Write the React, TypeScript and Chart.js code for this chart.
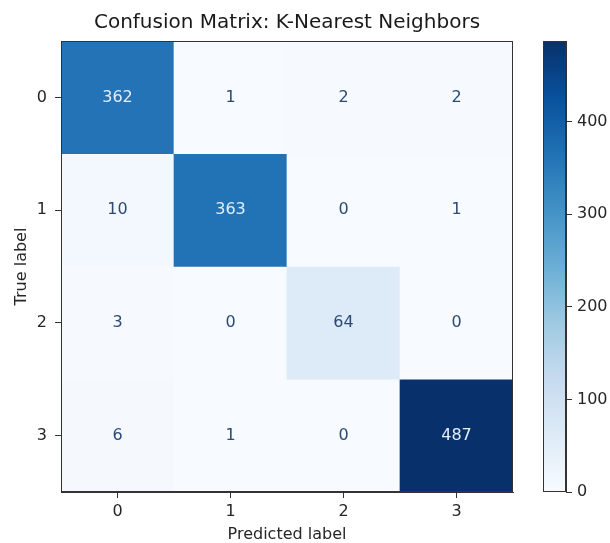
import React, { useEffect, useRef } from 'react';
import { Chart, registerables } from 'chart.js';

Chart.register(...registerables);

// Class labels shared by both axes
const CLASS_LABELS = ['0', '1', '2', '3'];

// Confusion-matrix counts, one array per true label (columns = predicted label)
const ROW_TRUE_0 = [362, 1, 2, 2];
const ROW_TRUE_1 = [10, 363, 0, 1];
const ROW_TRUE_2 = [3, 0, 64, 0];
const ROW_TRUE_3 = [6, 1, 0, 487];
const MATRIX = [ROW_TRUE_0, ROW_TRUE_1, ROW_TRUE_2, ROW_TRUE_3];

// Colour bar tick values
const COLORBAR_TICKS = [0, 100, 200, 300, 400];

const TITLE = 'Confusion Matrix: K-Nearest Neighbors';
const X_TITLE = 'Predicted label';
const Y_TITLE = 'True label';

// Sequential "Blues" palette (light -> dark)
const BLUES = ['#f7fbff', '#deebf7', '#c6dbef', '#9ecae1', '#6baed6', '#4292c6', '#2171b5', '#08519c', '#08306b'];

const FONT = "'DejaVu Sans', 'Liberation Sans', sans-serif";
const TEXT_COLOR = '#262626';
const FRAME_COLOR = '#333333';
const LABEL_SIZE = 16;

const allValues = MATRIX.flat();
const V_MIN = Math.min(...allValues);
const V_MAX = Math.max(...allValues);

function hexToRgb(h: string): number[] {
  const n = parseInt(h.slice(1), 16);
  return [(n >> 16) & 255, (n >> 8) & 255, n & 255];
}

function colorFor(v: number): string {
  const t = Math.min(1, Math.max(0, (v - V_MIN) / (V_MAX - V_MIN)));
  const pos = t * (BLUES.length - 1);
  const i = Math.min(BLUES.length - 2, Math.floor(pos));
  const f = pos - i;
  const a = hexToRgb(BLUES[i]);
  const b = hexToRgb(BLUES[i + 1]);
  const c = a.map((x, k) => Math.round(x + (b[k] - x) * f));
  return `rgb(${c[0]}, ${c[1]}, ${c[2]})`;
}

// Draws a thin frame around the plotting area
const framePlugin = {
  id: 'frame',
  afterDraw(chart: any) {
    const { ctx, chartArea: a } = chart;
    ctx.save();
    ctx.strokeStyle = FRAME_COLOR;
    ctx.lineWidth = 1;
    ctx.strokeRect(Math.round(a.left) + 0.5, Math.round(a.top) + 0.5, Math.round(a.right - a.left) - 1, Math.round(a.bottom - a.top) - 1);
    ctx.restore();
  },
};

// Writes each count in the centre of its cell
const cellTextPlugin = {
  id: 'cellText',
  afterDatasetsDraw(chart: any) {
    const { ctx } = chart;
    const xs = chart.scales.x;
    const ys = chart.scales.y;
    const threshold = (V_MIN + V_MAX) / 2;
    ctx.save();
    ctx.font = `${LABEL_SIZE}px ${FONT}`;
    ctx.textAlign = 'center';
    ctx.textBaseline = 'middle';
    MATRIX.forEach((row, r) => {
      row.forEach((v, c) => {
        ctx.fillStyle = v > threshold ? '#e3eefa' : '#2c4a74';
        ctx.fillText(String(v), xs.getPixelForValue(c), ys.getPixelForValue(r));
      });
    });
    ctx.restore();
  },
};

export default function App() {
  const matrixRef = useRef<HTMLCanvasElement | null>(null);
  const barRef = useRef<HTMLCanvasElement | null>(null);

  useEffect(() => {
    if (!matrixRef.current || !barRef.current) return;

    const tickFont = { family: FONT, size: LABEL_SIZE };

    const datasets = MATRIX.map((row, r) => ({
      label: `True ${CLASS_LABELS[r]}`,
      data: row.map(() => [r - 0.5, r + 0.5]),
      backgroundColor: row.map((v) => colorFor(v)),
      borderWidth: 0,
      barPercentage: 1,
      categoryPercentage: 1,
      grouped: false,
    }));

    const matrixChart = new Chart(matrixRef.current, {
      type: 'bar',
      data: { labels: CLASS_LABELS, datasets: datasets as any },
      options: {
        animation: false,
        responsive: false,
        devicePixelRatio: 1,
        layout: { padding: { top: 0, right: 17, bottom: 0, left: 0 } },
        plugins: {
          legend: { display: false },
          tooltip: { enabled: false },
          title: {
            display: true,
            text: TITLE,
            fullSize: false,
            color: '#1a1a1a',
            font: { family: FONT, size: 20, weight: 'normal' },
            padding: { top: 11, bottom: 6 },
          },
        },
        scales: {
          x: {
            type: 'category',
            offset: true,
            grid: { offset: false, drawOnChartArea: false, drawTicks: true, tickLength: 6, tickColor: FRAME_COLOR },
            border: { display: true, color: FRAME_COLOR },
            ticks: { font: tickFont, color: TEXT_COLOR, padding: 4, maxRotation: 0 },
            title: { display: true, text: X_TITLE, font: { ...tickFont, lineHeight: 1.0 }, color: TEXT_COLOR, padding: 0 },
            afterFit: (s: any) => { s.height = 51; },
          },
          y: {
            type: 'linear',
            min: -0.5,
            max: 3.5,
            reverse: true,
            afterBuildTicks: (s: any) => { s.ticks = CLASS_LABELS.map((_, i) => ({ value: i })); },
            grid: { drawOnChartArea: false, drawTicks: true, tickLength: 6, tickColor: FRAME_COLOR },
            border: { display: true, color: FRAME_COLOR },
            ticks: { font: tickFont, color: TEXT_COLOR, padding: 8, callback: (v: any) => CLASS_LABELS[v] ?? '' },
            title: { display: true, text: Y_TITLE, font: tickFont, color: TEXT_COLOR, padding: { top: 12, bottom: 0 } },
            afterFit: (s: any) => { s.width = 61; },
          },
        },
      },
      plugins: [cellTextPlugin, framePlugin],
    });

    const colorBar = new Chart(barRef.current, {
      type: 'bar',
      data: {
        labels: ['scale'],
        datasets: [
          {
            data: [[V_MIN, V_MAX]] as any,
            backgroundColor: (ctx: any) => {
              const chart = ctx.chart;
              const ys = chart.scales.y;
              if (!chart.chartArea || !ys) return BLUES[0];
              const g = chart.ctx.createLinearGradient(0, ys.getPixelForValue(V_MIN), 0, ys.getPixelForValue(V_MAX));
              BLUES.forEach((c, i) => g.addColorStop(i / (BLUES.length - 1), c));
              return g;
            },
            borderWidth: 0,
            barPercentage: 1,
            categoryPercentage: 1,
          },
        ],
      },
      options: {
        animation: false,
        responsive: false,
        devicePixelRatio: 1,
        layout: { padding: { top: 41, right: 0, bottom: 51, left: 13 } },
        plugins: { legend: { display: false }, tooltip: { enabled: false } },
        scales: {
          x: { display: false, offset: true },
          y: {
            type: 'linear',
            position: 'right',
            min: V_MIN,
            max: V_MAX,
            afterBuildTicks: (s: any) => { s.ticks = COLORBAR_TICKS.map((v) => ({ value: v })); },
            grid: { drawOnChartArea: false, drawTicks: true, tickLength: 6, tickColor: FRAME_COLOR },
            border: { display: true, color: FRAME_COLOR },
            ticks: { font: tickFont, color: TEXT_COLOR, padding: 5 },
            afterFit: (s: any) => { s.width = 44; },
          },
        },
      },
      plugins: [framePlugin],
    });

    return () => {
      matrixChart.destroy();
      colorBar.destroy();
    };
  }, []);

  return (
    <div style={{ position: 'fixed', left: 0, top: 0, width: 610, height: 543, background: '#ffffff' }}>
      <canvas ref={matrixRef} width={530} height={543} style={{ position: 'absolute', left: 0, top: 0 }} />
      <canvas ref={barRef} width={80} height={543} style={{ position: 'absolute', left: 530, top: 0 }} />
    </div>
  );
}
